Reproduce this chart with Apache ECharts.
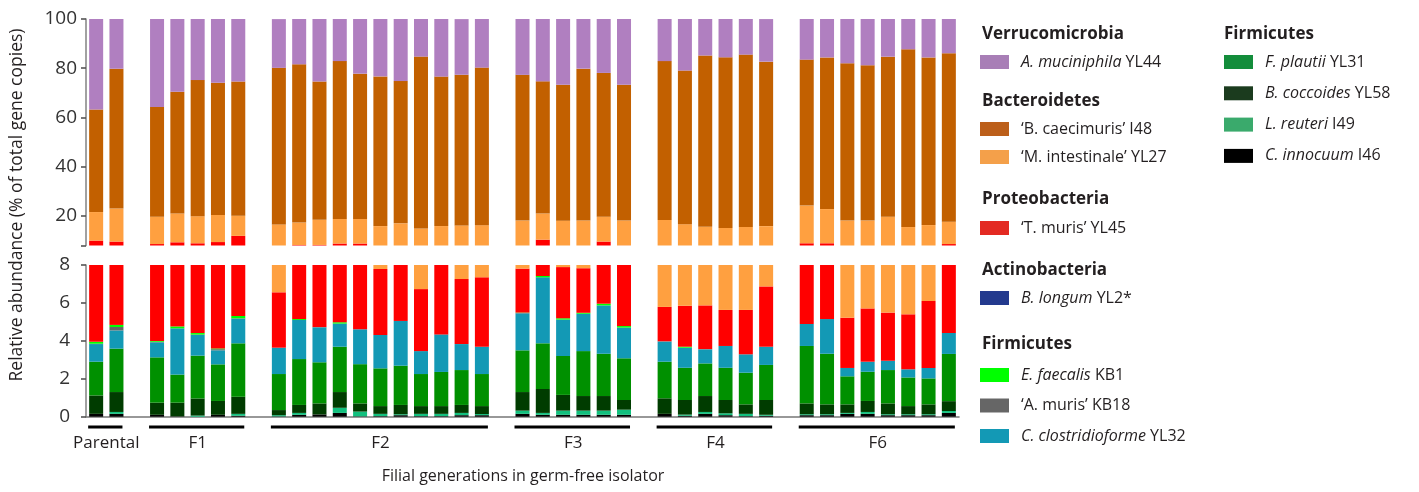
<!DOCTYPE html>
<html><head><meta charset="utf-8">
<script src="https://cdn.jsdelivr.net/npm/echarts@6/dist/echarts.min.js"></script>
<style>html,body{margin:0;padding:0;background:#fff}#c{width:1419px;height:492px}</style>
</head><body><div id="c"></div>
<script>
// ---------- DATA ----------
const groupNames = ['Parental', 'F1', 'F2', 'F3', 'F4', 'F6'];
const groupSizes = [2, 5, 11, 6, 6, 8];
const upperTicks = [20, 40, 60, 80, 100];
const lowerTicks = [0, 2, 4, 6, 8];

// values per bar (Parental x2, F1 x5, F2 x11, F3 x6, F4 x6, F6 x8), % of total gene copies
const cInnocuum = [0.15,0.15, 0.1,0.02,0,0.1,0.05, 0.02,0.1,0.12,0.2,0.02,0.03,0.08,0.03,0.03,0.08,0.08, 0.15,0.1,0.1,0.1,0.1,0.1, 0.15,0.05,0.15,0.08,0.03,0.05, 0.08,0.08,0.15,0.15,0.08,0.08,0.08,0.2];
const lReuteri = [0,0.1, 0,0,0.06,0,0.1, 0.06,0.1,0,0.27,0.25,0.12,0.05,0.12,0.12,0.12,0.06, 0.17,0.1,0.22,0.22,0.22,0.27, 0,0.06,0.1,0.1,0.12,0.05, 0.05,0.05,0.05,0.1,0.05,0.05,0.05,0.1];
const bCoccoides = [0.97,1.05, 0.64,0.72,0.9,0.73,0.9, 0.27,0.42,0.58,0.83,0.43,0.41,0.49,0.41,0.41,0.42,0.42, 0.98,1.26,0.83,0.77,0.77,0.51, 0.82,0.77,0.84,0.7,0.5,0.78, 0.57,0.52,0.45,0.58,0.57,0.43,0.52,0.52];
const fPlautii = [1.78,2.29, 2.39,1.48,2.26,1.93,2.82, 1.9,2.42,2.17,2.39,2.07,1.99,2.07,1.69,1.8,1.84,1.69, 2.2,2.41,2.05,2.37,2.23,2.2, 1.93,1.7,1.72,1.7,1.67,1.85, 3.03,2.67,1.48,1.54,1.76,1.51,1.37,2.49];
const cClostridioforme = [0.93,0.96, 0.79,2.44,1.09,0.74,1.3, 1.39,2.06,1.84,1.22,1.84,1.76,2.36,1.21,1.98,1.37,1.44, 1.95,3.48,1.92,1.97,2.55,1.62, 1.06,1.06,0.74,1.15,0.97,0.96, 1.16,1.83,0.44,0.53,0.49,0.43,0.55,1.11];
const aMuris = [0.02,0.18, 0.03,0,0.02,0.06,0.02, 0,0,0.02,0,0,0,0,0,0,0,0, 0.02,0,0,0,0,0, 0.02,0,0.02,0,0,0, 0,0,0,0,0,0,0,0];
const eFaecalis = [0.1,0.11, 0.04,0.1,0.08,0.04,0.12, 0,0.05,0,0.07,0,0,0,0,0,0,0, 0.02,0.07,0.07,0.05,0.09,0.08, 0,0.05,0,0,0,0, 0,0,0,0,0,0,0,0];
const bLongum = [0,0, 0,0,0,0,0, 0,0,0,0,0,0,0,0,0,0,0, 0,0,0,0,0,0, 0,0,0,0,0,0, 0,0,0,0,0,0,0,0];
const tMuris = [6.04,4.76, 4.6,4.54,4.49,5.8,6.6, 2.92,3.05,3.49,3.82,4.18,3.48,2.95,3.27,3.66,3.43,3.66, 2.32,2.95,2.7,2.35,3.64,3.25, 1.81,2.16,2.3,1.9,2.34,3.18, 4.01,3.75,2.65,2.81,2.54,2.9,3.53,4.17];
const mIntestinale = [11.6,13.4, 11.1,11.7,11.0,11.0,8.2, 10.0,9.1,10.2,10.0,10.0,8.1,9.0,8.2,7.9,8.9,8.9, 10.3,10.6,10.2,10.3,10.1,10.1, 12.6,10.8,9.7,9.5,9.9,9.0, 15.3,13.9,12.9,12.4,14.2,10.1,10.2,9.1];
const bCaecimuris = [41.6,56.8, 44.6,49.4,55.3,53.7,54.5, 63.6,64.3,56.2,64.1,59.0,60.8,57.8,69.8,60.7,61.2,64.0, 59.2,53.7,55.2,61.7,58.4,55.2, 64.5,62.4,69.6,69.3,70.0,66.8, 59.3,61.6,63.9,63.1,65.0,72.2,68.1,68.4];
const aMuciniphila = [36.8,20.2, 35.7,29.6,24.8,25.9,25.4, 19.8,18.4,25.4,17.1,22.2,23.3,25.2,15.3,23.4,22.6,19.8, 22.7,25.4,26.7,20.2,21.9,26.7, 17.1,21.0,14.9,15.6,14.5,17.3, 16.5,15.6,18.0,18.8,15.3,12.3,15.6,13.9];

// stacking order bottom -> top
const speciesNames = ['C. innocuum I46', 'L. reuteri I49', 'B. coccoides YL58', 'F. plautii YL31', 'C. clostridioforme YL32', '\u2018A. muris\u2019 KB18', 'E. faecalis KB1', 'B. longum YL2*', '\u2018T. muris\u2019 YL45', '\u2018M. intestinale\u2019 YL27', '\u2018B. caecimuris\u2019 I48', 'A. muciniphila YL44'];
const speciesValues = [cInnocuum, lReuteri, bCoccoides, fPlautii, cClostridioforme, aMuris, eFaecalis, bLongum, tMuris, mIntestinale, bCaecimuris, aMuciniphila];
const speciesItalic = [true, true, true, true, true, false, true, true, false, false, false, true];
const barColors = ['#000000', '#12C07E', '#003C00', '#009000', '#1399B5', '#666666', '#00FF00', '#233A8E', '#FF0000', '#FFA040', '#C26000', '#B07FC0'];
const legendColors = ['#000000', '#3AAA6C', '#1B3B1E', '#138D3B', '#1399B5', '#666666', '#00FF00', '#233A8E', '#E32A22', '#F4A04A', '#BC5F1A', '#A87EB6'];

// ---------- BUILD ----------
const categories = [];
const barIndexOfCat = [];
const groupCats = [];
let k = 0;
groupNames.forEach((g, gi) => {
  const cats = [];
  for (let i = 0; i < groupSizes[gi]; i++) {
    const c = g + '-' + (i + 1);
    categories.push(c); barIndexOfCat.push(k++); cats.push(c);
  }
  groupCats.push(cats);
  if (gi < groupNames.length - 1) { categories.push('gap-' + g); barIndexOfCat.push(-1); }
});
function padded(arr) { return barIndexOfCat.map(i => i < 0 ? '-' : arr[i]); }

const FONT = '"Open Sans", "Noto Sans", sans-serif';
const TXT = '#231F20';

const series = [];
[0, 1].forEach(gi => {
  speciesNames.forEach((n, si) => {
    series.push({
      type: 'bar', name: n, stack: 'st' + gi, xAxisIndex: gi, yAxisIndex: gi,
      data: padded(speciesValues[si]), barCategoryGap: '31%',
      itemStyle: { color: barColors[si] }, clip: true, emphasis: { disabled: true }
    });
  });
});

function fmt(name) {
  const si = speciesNames.indexOf(name);
  if (speciesItalic[si]) {
    const p = name.lastIndexOf(' ');
    return '{i|' + name.slice(0, p) + '}{n| ' + name.slice(p + 1) + '}';
  }
  return '{n|' + name + '}';
}
function legend(names, left, top, gap) {
  return {
    orient: 'vertical', left: left, top: top, padding: 0, itemGap: gap,
    itemWidth: 29, itemHeight: 14, icon: 'rect', selectedMode: false,
    data: names.map(n => ({ name: n, itemStyle: { color: legendColors[speciesNames.indexOf(n)], borderWidth: 0 } })),
    formatter: fmt,
    textStyle: {
      fontSize: 16, fontFamily: FONT, color: TXT, lineHeight: 20, padding: [0, 0, 0, 7],
      rich: {
        i: { fontStyle: 'italic', fontSize: 16, fontFamily: FONT, color: TXT, lineHeight: 20 },
        n: { fontSize: 16, fontFamily: FONT, color: TXT, lineHeight: 20 }
      }
    }
  };
}
const S = speciesNames;
const legends = [
  legend([S[11]], 980, 52, 8),
  legend([S[10], S[9]], 980, 119, 8),
  legend([S[8]], 980, 218, 8),
  legend([S[7]], 980, 288, 8),
  legend([S[6], S[5], S[4]], 980, 365, 10.5),
  legend([S[3], S[2], S[1], S[0]], 1224, 52, 11.3)
];

function header(text, x, y) {
  return { type: 'text', x: x, y: y, silent: true,
    style: { text: text, fill: TXT, font: 'bold 17px ' + FONT, align: 'left', verticalAlign: 'middle' } };
}
const headers = [
  header('Verrucomicrobia', 982, 34), header('Bacteroidetes', 982, 101),
  header('Proteobacteria', 982, 199), header('Actinobacteria', 982, 270),
  header('Firmicutes', 982, 344), header('Firmicutes', 1224, 34)
];

const GL = 86, GW = 873;
const axisLineStyle = { color: '#8a8a8a', width: 1.6 };
const option = {
  animation: false,
  backgroundColor: '#fff',
  grid: [
    { left: GL, width: GW, top: 265, height: 151.7 },
    { left: GL, width: GW, top: 19, height: 226.5 }
  ],
  xAxis: [
    { type: 'category', gridIndex: 0, data: categories, axisLabel: { show: false }, axisTick: { show: false },
      axisLine: { show: true, lineStyle: { color: '#777', width: 1.6 } } },
    { type: 'category', gridIndex: 1, data: categories, axisLabel: { show: false }, axisTick: { show: false },
      axisLine: { show: false } }
  ],
  yAxis: [
    { type: 'value', gridIndex: 0, min: 0, max: 8, interval: 2, splitLine: { show: false },
      axisLine: { show: true, lineStyle: axisLineStyle },
      axisTick: { show: true, length: 5, inside: false, lineStyle: { color: '#555', width: 1.6 }, customValues: lowerTicks },
      axisLabel: { fontSize: 19, fontFamily: FONT, color: '#333', margin: 16, customValues: lowerTicks } },
    { type: 'value', gridIndex: 1, min: 8, max: 100, splitLine: { show: false },
      axisLine: { show: true, lineStyle: axisLineStyle },
      axisTick: { show: true, length: 5, lineStyle: { color: '#555', width: 1.6 }, customValues: [8].concat(upperTicks) },
      axisLabel: { fontSize: 19, fontFamily: FONT, color: '#333', margin: 9, customValues: upperTicks } }
  ],
  legend: legends,
  series: series,
  graphic: headers.concat([
    { type: 'text', x: 17, y: 205, rotation: Math.PI / 2, silent: true,
      style: { text: 'Relative abundance (% of total gene copies)', fill: TXT, font: '17.5px ' + FONT, align: 'center', verticalAlign: 'middle' } },
    { type: 'text', x: 523, y: 476, silent: true,
      style: { text: 'Filial generations in germ-free isolator', fill: TXT, font: '16px ' + FONT, align: 'center', verticalAlign: 'middle' } }
  ])
};

const chart = echarts.init(document.getElementById('c'), null, { renderer: 'canvas' });
chart.setOption(option);

// group brackets and labels positioned from the category axis
const extra = [];
groupCats.forEach((cats, gi) => {
  const x0 = chart.convertToPixel({ xAxisIndex: 0 }, cats[0]);
  const x1 = chart.convertToPixel({ xAxisIndex: 0 }, cats[cats.length - 1]);
  extra.push({ type: 'line', silent: true, shape: { x1: x0 - 8, y1: 427, x2: x1 + 6, y2: 427 }, style: { stroke: '#000', lineWidth: 3 } });
  extra.push({ type: 'text', silent: true, x: (x0 + x1) / 2, y: 443,
    style: { text: groupNames[gi], fill: TXT, font: '17px ' + FONT, align: 'center', verticalAlign: 'middle' } });
});
chart.setOption({ graphic: option.graphic.concat(extra) });
</script>
</body></html>
